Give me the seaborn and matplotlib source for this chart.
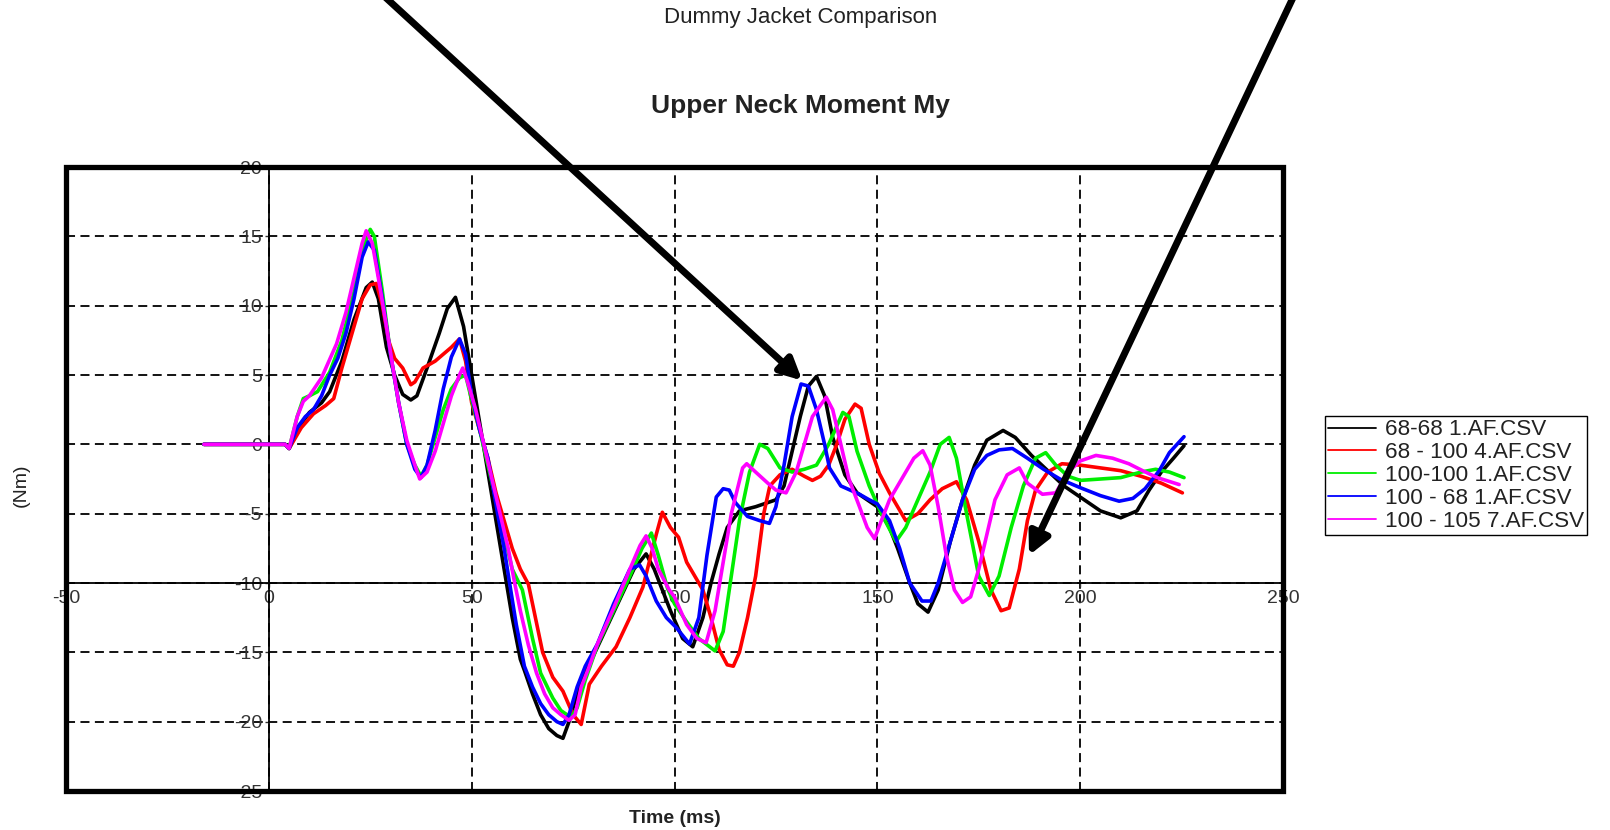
import pandas as pd
import matplotlib.pyplot as plt
import seaborn as sns
from matplotlib.patches import Rectangle

# Upper neck moment My (Nm) vs time (ms)
black_t = [-16, 4, 5, 8, 10, 13, 15, 18, 21, 24, 25.5, 27, 29, 31, 33, 35, 36.5, 39, 42, 44, 46, 48, 50, 52, 54, 56, 58, 60, 62, 63, 65, 67, 69, 71, 72.5, 74, 76, 78, 82, 86, 90, 93, 95, 97, 99, 102, 104.5, 107, 109, 111, 113, 116, 120, 125, 127, 129, 131, 133, 135, 137, 139, 142, 145, 150, 153, 155, 158, 160, 162.5, 165, 168, 171, 174, 177, 181, 184, 188, 192, 196, 200, 205, 210, 214, 217, 220, 223, 225.6]
black_v = [0, 0, -0.3, 1.5, 2.3, 3.0, 3.8, 6, 9, 11.3, 11.7, 10.5, 7, 5, 3.6, 3.2, 3.5, 5.5, 8, 9.8, 10.6, 8.5, 5, 1.5, -2, -5.5, -9, -12.5, -15.5, -16.3, -18, -19.5, -20.5, -21, -21.2, -20, -18, -16.5, -14, -11.5, -9, -7.9, -9, -10.5, -12, -14, -14.6, -12.5, -10, -7.9, -6, -4.8, -4.5, -4.0, -3, -0.5, 2, 4.2, 4.9, 3.5, 0.5, -2.2, -3.5, -4.5, -6, -7.5, -10, -11.5, -12.1, -10.5, -7, -4, -1.5, 0.3, 1.0, 0.5, -0.8, -1.9, -3, -3.8, -4.8, -5.3, -4.8, -3.3, -2, -1, -0.1]

red_t = [-16, 4, 5, 8, 11, 14, 16, 18, 21, 23, 25, 26.5, 28, 29.5, 31, 33, 35, 36, 38, 41, 43, 45, 47, 48.5, 50, 52, 54, 56, 58, 60, 62, 64, 67.5, 70, 72.5, 75, 77, 79, 82, 85.6, 89, 92.2, 95.5, 97, 99, 101, 103, 105, 107, 109, 111, 113, 114.5, 116, 118, 120, 122, 123.5, 126, 129, 132, 134, 136, 138, 140, 142, 144.5, 146, 148, 150.5, 153, 157, 160, 163, 166, 169.5, 172, 175, 178, 180.5, 182.5, 185, 187, 189, 192, 195.5, 200, 205, 210, 215, 220, 225.2]
red_v = [0, 0, -0.3, 1.2, 2.2, 2.8, 3.3, 5.5, 8.5, 10.5, 11.5, 11.6, 10, 7.5, 6.2, 5.5, 4.3, 4.5, 5.5, 6, 6.5, 7, 7.6, 6, 3, 1, -1, -3.5, -5.5, -7.5, -9, -10.1, -15, -16.8, -17.8, -19.5, -20.2, -17.3, -16, -14.6, -12.5, -10.3, -6.5, -4.9, -6, -6.7, -8.5, -9.5, -10.5, -12.5, -14.8, -15.9, -16, -15, -12.5, -9.5, -5, -3, -2.2, -1.8, -2.3, -2.6, -2.3, -1.5, 0, 1.8, 2.9, 2.6, 0, -2.1, -3.5, -5.5, -5, -4, -3.2, -2.7, -4, -7, -10.5, -12, -11.8, -9, -5.5, -3.3, -2, -1.4, -1.5, -1.7, -1.9, -2.3, -2.8, -3.5]

green_t = [-16, 4, 5, 7, 8.5, 10, 12, 15, 18, 21, 23, 25, 26, 28, 30, 32, 34, 36, 37.5, 39, 41, 43, 45, 47, 48.5, 50, 52, 54, 56, 58, 60, 62.5, 65, 67, 70, 72, 74.5, 76, 78, 81, 85, 89, 92, 94.3, 96, 98.3, 100, 103, 106, 110, 112, 114, 116, 118.5, 121, 123, 126, 129, 132, 135, 138, 141.5, 143, 145, 148, 151, 154.6, 157, 160, 163, 165.5, 167.7, 169.5, 172, 175, 177.6, 180, 183, 186, 189, 191.5, 194, 197, 200, 205, 210, 215, 218.6, 222, 225.6]
green_v = [0, 0, -0.3, 2, 3.3, 3.5, 3.8, 5.2, 7.5, 11, 14, 15.5, 15, 11, 6.5, 3, 0, -1.5, -2.3, -1.5, 0.5, 2.5, 4, 4.8, 5, 3.2, 1, -1.5, -4, -6.5, -9, -10.5, -14, -16.5, -18.3, -19.2, -19.7, -19, -17, -14.5, -12, -9.5, -7.5, -6.4, -8, -10.4, -11.5, -12.8, -14, -14.9, -13.5, -9.5, -5.5, -2, 0, -0.3, -1.7, -2, -1.8, -1.5, 0, 2.3, 2, -0.5, -3, -5, -7, -6, -4, -2, 0, 0.5, -1, -5, -9.5, -10.9, -9.5, -6, -3, -1, -0.6, -1.5, -2.3, -2.6, -2.5, -2.4, -2.0, -1.8, -2.0, -2.4]

blue_t = [-16, 4, 5, 7, 9, 11, 13, 15, 17, 19, 21, 23, 24.5, 26, 28, 30, 32, 34, 36, 37.5, 39, 41, 43, 45, 47, 48.5, 50, 52, 54, 56.4, 58, 59.4, 61, 63, 65, 67, 69, 71, 72.5, 74, 76, 78, 81, 85, 89, 91.4, 93, 95.5, 98, 100.4, 103.7, 106, 108, 110.3, 112, 113.5, 115, 118, 121, 123.4, 125, 127, 129, 131.2, 133, 135, 137, 138.2, 141, 145.6, 148, 150, 153, 155.5, 158, 161, 163.2, 165, 168, 171, 174, 177, 180, 183.3, 187, 191, 195, 199.8, 205, 209.6, 213, 216, 219.5, 222, 225.6]
blue_v = [0, 0, -0.3, 1.2, 2, 2.5, 3.5, 5, 6.2, 8, 10.5, 13.5, 14.6, 14, 10.5, 6.5, 3, 0, -1.8, -2.4, -1.5, 1, 4, 6.3, 7.6, 6.5, 3.5, 1, -1, -5, -7.5, -10.1, -13, -16, -17.5, -18.7, -19.5, -20, -20.2, -19.5, -17.5, -16, -14.4, -11.5, -9, -8.7, -9.5, -11.3, -12.5, -13.2, -14.4, -12.5, -8, -3.8, -3.2, -3.3, -4.2, -5.2, -5.5, -5.7, -4.5, -1.5, 2, 4.35, 4.2, 2.5, 0, -1.7, -3, -3.6, -4, -4.3, -5.5, -7.5, -10, -11.3, -11.3, -10, -7, -4, -1.8, -0.8, -0.4, -0.3, -1, -1.8, -2.5, -3.1, -3.7, -4.1, -3.9, -3.2, -1.9, -0.6, 0.55]

magenta_t = [-16, 4, 5, 7, 8.5, 10, 13, 16.7, 19, 21, 23, 24, 25.5, 27, 29, 30.6, 32, 34, 36, 37.2, 39, 41, 43, 45, 47, 47.8, 49, 51, 53, 55, 57, 59, 60.6, 62, 64, 66, 68, 70, 72, 74, 75.5, 77, 79, 81, 85, 89, 91.5, 93, 94.5, 96, 98.7, 100, 103, 105.5, 107.8, 110, 112, 114, 116.8, 117.8, 120, 123, 125, 127.5, 130, 132, 134, 137.4, 139, 141, 143, 145.6, 147.5, 149.3, 151, 153, 155, 157, 159, 161.2, 163, 165, 167, 169, 171, 173, 175, 177, 179, 182, 185, 187, 190.7, 194, 197, 200, 203.9, 208, 212, 215.4, 219, 224.4]
magenta_v = [0, 0, -0.3, 2, 3.1, 3.5, 4.8, 7.25, 9.5, 12, 14.5, 15.4, 14.5, 12, 8.5, 5.5, 3, 0.3, -1.5, -2.5, -2, -0.5, 1.5, 3.5, 5, 5.5, 4.5, 2.5, 0, -2.5, -5, -7.5, -10, -12, -14.5, -16.5, -18, -19, -19.5, -19.9, -19.5, -17.5, -16, -14.4, -11.8, -9, -7.3, -6.6, -7.5, -9, -10.5, -11, -13, -14, -14.3, -12, -8.5, -5, -1.7, -1.4, -2, -2.8, -3.3, -3.5, -2, 0, 2, 3.4, 2.5, 0, -2.5, -4.5, -6, -6.8, -5.5, -4, -3, -2, -1, -0.46, -1.5, -4.5, -8, -10.5, -11.4, -11, -9, -6.5, -4, -2.2, -1.7, -2.8, -3.6, -3.5, -2, -1.2, -0.8, -1, -1.4, -1.9, -2.4, -2.9]

tests = ["68-68 1.AF.CSV", "68 - 100 4.AF.CSV", "100-100 1.AF.CSV", "100 - 68 1.AF.CSV", "100 - 105 7.AF.CSV"]
colors = ["#000000", "#ff0000", "#00ee00", "#0000ff", "#ff00ff"]
times = [black_t, red_t, green_t, blue_t, magenta_t]
moments = [black_v, red_v, green_v, blue_v, magenta_v]

frames = []
for name, t, v in zip(tests, times, moments):
    frames.append(pd.DataFrame({"time": t, "moment": v, "test": name}))
df = pd.concat(frames, ignore_index=True)

sns.set_style("white")
plt.rcParams["font.family"] = ["Liberation Sans", "DejaVu Sans"]
plt.rcParams["axes.unicode_minus"] = False

fig = plt.figure(figsize=(16.1, 8.3), dpi=100)
ax = fig.add_axes([66 / 1610, 1 - 791 / 830, (1283 - 66) / 1610, (791 - 167) / 830])

sns.lineplot(data=df, x="time", y="moment", hue="test", hue_order=tests,
             palette=dict(zip(tests, colors)), sort=False, estimator=None,
             linewidth=2.6, ax=ax)

ax.set_xlim(-50, 250)
ax.set_ylim(-25, 20)
ax.set_xticks(range(-50, 251, 50))
ax.set_yticks(range(-25, 21, 5))
ax.set_xlabel("")
ax.set_ylabel("")

# dashed grid, axes crossing at x=0 / y=-10
ax.grid(True, color="black", linestyle=(0, (5, 3)), linewidth=1.3)
ax.set_axisbelow(True)
ax.spines["left"].set_position(("data", 0))
ax.spines["bottom"].set_position(("data", -10))
for s in ["left", "bottom"]:
    ax.spines[s].set_color("black")
    ax.spines[s].set_linewidth(1.3)
    ax.spines[s].set_zorder(1.5)
ax.spines["top"].set_visible(False)
ax.spines["right"].set_visible(False)
ax.tick_params(axis="both", labelsize=14, colors="#333333", length=3, pad=2, width=1)
ax.tick_params(axis="x", bottom=True)
ax.tick_params(axis="y", left=True)
ax.add_patch(Rectangle((0, 0), 1, 1, transform=ax.transAxes, fill=False,
                       edgecolor="black", linewidth=3.8, clip_on=False, zorder=5))

# legend outside on the right
handles, labels = ax.get_legend_handles_labels()
leg = ax.legend(handles, labels, loc="upper left", bbox_to_anchor=(1325 / 1610, 1 - 416 / 830),
                bbox_transform=fig.transFigure, fontsize=16.2, frameon=True, fancybox=False,
                edgecolor="black", framealpha=1, borderpad=0.15, labelspacing=0.08,
                handlelength=2.1, handletextpad=0.4, borderaxespad=0)
leg.get_frame().set_linewidth(1.0)
for line in leg.get_lines():
    line.set_linewidth(1.3)
for txt in leg.get_texts():
    txt.set_color("#222222")

fig.text(0.497, 1 - 18 / 830, "Dummy Jacket Comparison", ha="center", va="center",
         fontsize=16, color="#222222")
fig.text(0.497, 1 - 106 / 830, "Upper Neck Moment My", ha="center", va="center",
         fontsize=19, fontweight="bold", color="#222222")
fig.text(21 / 1610, 1 - 485 / 830, "(Nm)", rotation=90, ha="center", va="center",
         fontsize=14, color="#222222")
fig.text(675 / 1610, 1 - 818 / 830, "Time (ms)", ha="center", va="center",
         fontsize=14, fontweight="bold", color="#222222")

# the two call-out arrows coming in from the top of the page
arrow = dict(arrowstyle="-|>", color="black", lw=5, mutation_scale=32, shrinkA=0, shrinkB=0)
ax.annotate("", xy=(131.5, 4.6), xytext=(372, 845), textcoords="figure pixels",
            arrowprops=arrow, annotation_clip=False)
ax.annotate("", xy=(187.4, -8.0), xytext=(1299, 845), textcoords="figure pixels",
            arrowprops=arrow, annotation_clip=False)

fig.savefig("out.png", dpi=100)
